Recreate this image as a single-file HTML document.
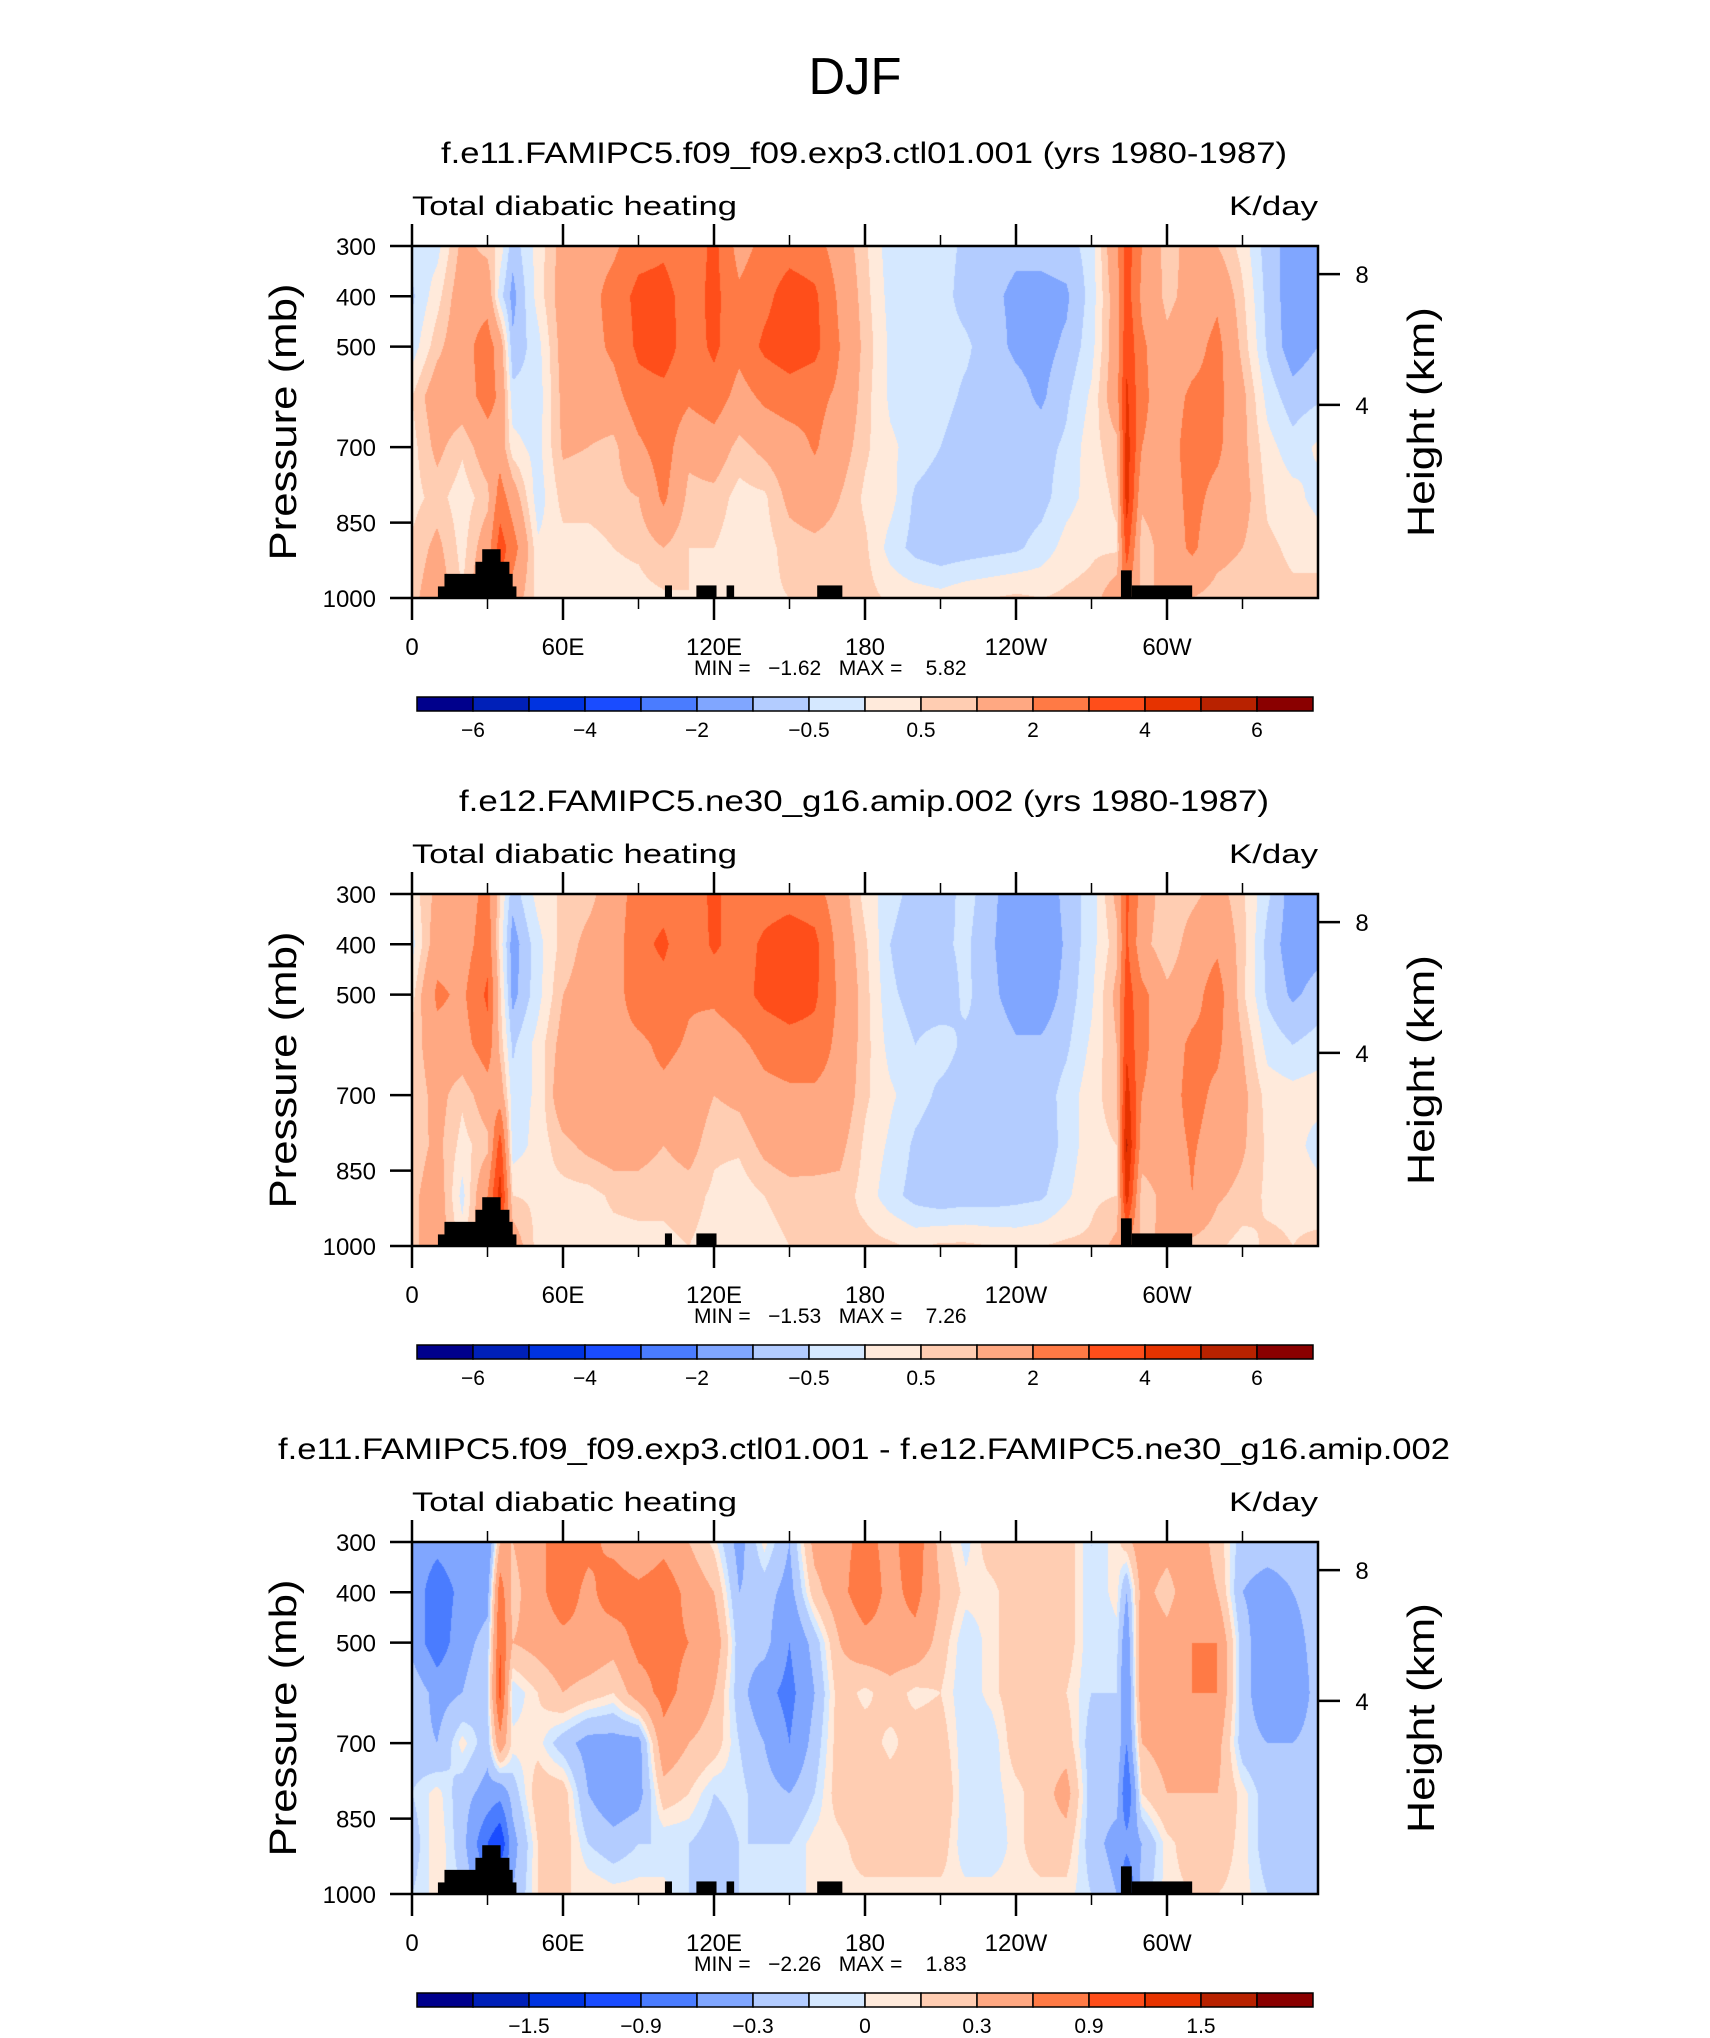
<!DOCTYPE html>
<html><head><meta charset="utf-8">
<style>
html,body{margin:0;padding:0;background:#fff;}
#root{position:relative;width:1710px;height:2038px;overflow:hidden;background:#fff;}
canvas{position:absolute;}
svg{position:absolute;left:0;top:0;}
text{font-family:"Liberation Sans",sans-serif;fill:#000;}
</style></head>
<body>
<div id="root">
<canvas id="c0" width="906" height="352" style="left:412px;top:246px"></canvas>
<canvas id="c1" width="906" height="352" style="left:412px;top:894px"></canvas>
<canvas id="c2" width="906" height="352" style="left:412px;top:1542px"></canvas>
<svg id="ov" width="1710" height="2038">
<text x="855" y="94" font-size="52" text-anchor="middle" textLength="93" lengthAdjust="spacingAndGlyphs" style="font-weight:300">DJF</text>
</svg>
</div>
<script>
// ---- data ----
const lons = [0,10,20,30,35,40,50,60,70,80,90,100,110,120,130,140,150,160,170,180,190,200,210,220,230,240,250,260,270,280,284,290,300,310,320,330,340,350,360];
const pLevels = [300,400,500,600,700,800,900,1000];
const panel1Values = [
[-0.3,-0.6,-0.3,0.5,0.3,0.3,0.6,0.8],[-0.2,0.3,0.8,1.5,1.2,0.7,1.2,1.5],[1.2,1.5,1.6,1.5,0.6,0.2,0.3,0.5],[0.8,1.6,2.5,2.4,1.5,0.8,1.5,2],[0.3,-0.3,1.5,1.8,1.5,2.5,3.5,3],[-0.8,-1.2,-0.9,-0.3,0.2,1.5,2.5,1.5],[0.2,0.2,-0.2,-0.3,-0.2,-0.3,0.1,0.3],[1.3,1.4,1.3,1.2,1.1,0.7,0.3,0.2],[1.5,1.6,1.6,1.5,1.0,0.7,0.3,0.2],[1.8,2.4,2.2,1.6,0.8,0.8,0.5,0.3],[2.6,3.3,3.2,2.6,1.8,1.0,0.6,0.3],[2.8,3.4,3.5,2.7,2.5,2.2,1.0,0.4],[2.2,2.5,2.5,2.2,1.2,0.8,0.5,0.5],[3.3,3.3,3.2,2.6,1.5,0.8,0.5,0.3],[1.6,2.2,2.3,1.6,0.8,0.3,0.2,0.3],[2.3,2.7,3.2,2.2,1.2,0.4,0.3,0.4],[2.6,3.5,3.6,2.5,1.5,1.2,0.7,0.5],[2.4,3.2,3.3,2.3,2.1,1.5,0.8,0.6],[1.5,1.8,2.0,1.8,1.4,1.0,0.7,0.6],[0.6,0.7,0.8,0.7,0.6,0.4,0.6,0.7],[-0.3,-0.2,-0.1,-0.1,0.1,0.2,-0.2,0.4],[-0.3,-0.3,-0.3,-0.3,-0.2,-0.6,-0.7,0.3],[-0.3,-0.3,-0.3,-0.3,-0.5,-0.8,-0.9,0.2],[-0.6,-0.7,-0.4,-0.6,-0.8,-0.9,-0.8,0.4],[-0.8,-0.9,-0.8,-0.7,-0.8,-0.8,-0.7,0.5],[-0.9,-1.1,-1.1,-0.8,-0.8,-0.8,-0.6,0.6],[-0.8,-1.2,-1.2,-1.1,-0.7,-0.7,-0.3,0.5],[-0.7,-1.1,-0.9,-0.6,-0.4,-0.2,0.2,0.6],[-0.3,-0.3,-0.2,0.1,0.3,0.2,0.4,0.7],[1.8,1.5,1.5,1.6,0.8,0.6,0.4,1.5],[3.5,3.5,3.8,4.2,4.5,4.5,3.5,2],[2.0,1.8,2.2,2.2,2.0,1.2,0.6,0.8],[0.7,0.8,1.2,1.5,1.6,1.5,1.4,1.2],[1.3,1.3,1.6,2.2,2.4,2.3,2.2,1.0],[1.0,1.8,2.3,2.3,2.2,1.7,1.3,0.7],[0.3,0.6,0.8,1.2,1.2,1.3,1.0,0.6],[-0.8,-0.7,-0.6,-0.2,0.2,0.4,0.6,0.7],[-1.2,-1.3,-1.3,-0.8,-0.3,0.2,0.4,0.6],[-1.1,-1.2,-1.0,-0.6,0.1,-0.2,0.3,0.7]];
const panel2Values = [
[0.2,-0.2,0.3,0.6,0.5,0.6,0.8,0.8],[1.2,1.5,2.2,1.6,1.3,1.2,1.5,1.5],[1.3,1.5,1.8,1.6,0.6,0.3,-0.2,0.3],[2.4,2.6,3.2,2.6,1.5,0.8,2,2],[0.5,0.3,0.6,0.8,1.5,3.5,4.5,3],[-0.8,-1.3,-1.2,-0.6,-0.3,-0.3,0.5,1.5],[0.2,-0.2,-0.2,0.2,0.1,0.2,0.4,0.3],[0.6,0.7,1.0,1.3,1.6,0.8,0.3,0.3],[0.8,1.2,1.3,1.6,1.7,1.2,0.3,0.2],[1.4,1.5,1.6,1.7,1.8,1.4,0.6,0.3],[2.5,2.7,2.5,1.8,1.7,1.3,0.7,0.3],[2.6,3.2,2.6,2.2,1.8,1.0,0.6,0.4],[2.2,2.2,2.1,1.9,1.6,1.3,0.7,0.5],[3.3,3.2,2.2,1.5,1.0,0.6,0.4,0.3],[2.2,2.5,2.6,1.8,1.2,0.6,0.2,0.3],[2.5,3.2,3.3,2.3,1.7,1.2,0.5,0.3],[2.6,3.6,3.6,2.6,1.8,1.5,0.7,0.5],[2.4,3.3,3.2,2.6,1.8,1.3,0.8,0.5],[1.4,1.6,1.8,1.7,1.6,1.2,0.8,0.6],[0.3,0.6,0.7,0.7,0.6,0.4,0.3,0.7],[-0.3,-0.5,-0.4,-0.2,0.1,-0.1,-0.3,0.6],[-0.7,-0.9,-0.7,-0.5,-0.3,-0.6,-0.7,0.4],[-0.8,-0.6,-0.8,-0.3,-0.6,-0.8,-0.9,0.6],[-0.3,-0.4,-0.4,-0.6,-0.7,-0.9,-0.8,0.6],[-0.8,-0.9,-0.8,-0.5,-0.7,-0.8,-0.8,0.5],[-1.5,-1.5,-1.4,-0.9,-0.8,-0.9,-0.7,0.4],[-1.5,-1.6,-1.4,-0.9,-0.8,-0.9,-0.6,0.5],[-0.8,-0.9,-0.8,-0.6,-0.3,-0.3,-0.1,0.6],[-0.3,-0.2,-0.1,0.1,0.3,0.3,0.4,0.6],[1.2,0.8,1.2,1.0,0.8,0.5,0.5,1.2],[3.2,3.2,3.5,3.8,4.5,5.2,4.5,2],[1.6,1.3,2.3,2.2,2.0,1.5,0.6,0.8],[0.5,0.5,1.2,1.5,1.6,1.6,1.3,1.2],[0.8,1.4,1.6,2.2,2.3,2.1,2.0,0.8],[1.3,1.8,2.5,2.2,1.8,1.6,1.1,0.6],[0.6,0.7,0.6,1.0,1.2,1.1,0.8,0.3],[-0.4,-0.7,-0.6,-0.2,0.3,0.4,0.4,0.6],[-1.3,-1.3,-1.1,-0.5,0.2,0.3,0.4,0.5],[-1.3,-1.2,-0.8,-0.3,0.3,-0.3,0.3,0.6]];
const panel3Values = [
[-0.4,-0.4,-0.4,-0.1,-0.2,-0.1,-0.2,-0.1],[-0.5,-0.8,-0.8,-0.4,-0.3,0.05,0.1,0.05],[-0.4,-0.5,-0.4,-0.3,0.05,-0.2,-0.2,-0.1],[-0.6,-0.4,-0.2,-0.1,-0.2,-0.4,-0.9,-0.5],[0.3,0.8,0.9,1.0,0.5,-0.5,-1.2,-0.5],[0.3,0.2,0.3,-0.1,0.05,-0.2,-0.4,-0.3],[0.5,0.5,0.4,0.1,0.05,0.2,0.1,0.1],[0.8,0.8,0.5,0.3,-0.2,0.2,0.2,0.1],[0.7,0.5,0.5,0.2,-0.4,-0.3,-0.1,0.1],[0.5,0.8,0.4,0.1,-0.4,-0.5,-0.2,0.05],[0.3,0.7,0.7,0.45,-0.4,-0.4,-0.1,0.05],[0.5,0.8,0.7,0.7,0.5,0.2,-0.1,0.05],[0.3,0.5,0.6,0.5,0.3,0.1,-0.1,-0.1],[0.05,0.3,0.5,0.3,0.2,-0.1,-0.2,-0.2],[-0.4,-0.3,-0.2,-0.2,-0.1,-0.05,-0.1,-0.1],[0.05,-0.2,-0.2,-0.5,-0.3,-0.2,-0.1,-0.05],[-0.3,-0.4,-0.6,-0.7,-0.6,-0.3,-0.1,-0.1],[0.4,0.2,-0.2,-0.3,-0.2,-0.1,0.05,0.05],[0.5,0.5,0.3,0.2,0.2,0.2,0.05,0.05],[0.7,0.8,0.5,0.05,0.2,0.3,0.2,0.05],[0.5,0.5,0.5,0.2,0.05,0.2,0.2,0.05],[0.8,0.7,0.5,0.05,0.2,0.2,0.2,0.05],[0.2,0.3,0.2,0.1,0.2,0.3,0.2,0.05],[-0.05,0.05,-0.1,-0.1,-0.1,-0.1,-0.1,0.05],[0.2,0.05,0.05,0.05,-0.1,-0.05,-0.1,0.05],[0.2,0.2,0.2,0.2,0.2,0.05,0.05,0.05],[0.2,0.2,0.2,0.2,0.2,0.2,0.2,0.05],[0.2,0.2,0.2,0.1,0.2,0.4,0.2,0.05],[-0.1,-0.1,-0.1,-0.1,-0.2,-0.2,-0.2,-0.1],[0.05,0.05,-0.05,-0.1,-0.1,-0.2,-0.4,-0.3],[0.2,-0.3,-0.5,-0.6,-0.6,-0.9,-0.5,-1],[0.5,0.4,0.5,0.5,0.3,0.1,-0.3,-0.2],[0.4,0.2,0.4,0.4,0.4,0.3,0.05,0.05],[0.5,0.5,0.6,0.6,0.5,0.3,0.2,0.1],[0.2,0.3,0.6,0.6,0.4,0.3,0.2,0.1],[-0.2,-0.3,-0.2,-0.2,-0.2,0.05,0.05,0.05],[-0.2,-0.4,-0.5,-0.5,-0.3,-0.2,-0.2,-0.1],[-0.2,-0.3,-0.4,-0.5,-0.3,-0.2,-0.2,-0.1],[-0.1,-0.2,-0.2,-0.2,-0.2,-0.1,-0.1,-0.1]];
const levelsAbs = [-6,-5,-4,-3,-2,-1,-0.5,0,0.5,1,2,3,4,5,6];
const levelsDiff = [-1.8,-1.5,-1.2,-0.9,-0.6,-0.3,-0.1,0,0.1,0.3,0.6,0.9,1.2,1.5,1.8];
const cbLabelsAbs = ["−6","−4","−2","−0.5","0.5","2","4","6"];
const cbLabelsDiff = ["−1.5","−0.9","−0.3","0","0.3","0.9","1.5"];
const colors = ["#00008c","#0020b8","#0033e0","#1a4cff","#4a7cff","#80a6ff","#b3ccff","#d5e8ff","#ffeadb","#ffcdb2","#ffa882","#ff7a45","#ff4e1a","#e63300","#b82200","#8a0000"];
const topoLon0 = [10.3,12.9,25.2,27.9,100.5,113,125,161,281.7,286];
const topoLon1 = [41.5,40,38.7,35.2,103.3,121,128,171,286,310];
const topoP = [977,952,928,903,975,975,975,975,945,975];
const topoIn2 = [1,1,1,1,1,1,0,0,1,1];
const pTicks = [300,400,500,700,850,1000];
const lonTicks = [0,60,120,180,240,300];
const lonTickLabels = ["0","60E","120E","180","120W","60W"];
const lonMinor = [30,90,150,210,270,330];
const hTicks = [8,4];
const hTickP = [356,616];
const titles = ["f.e11.FAMIPC5.f09_f09.exp3.ctl01.001 (yrs 1980-1987)","f.e12.FAMIPC5.ne30_g16.amip.002 (yrs 1980-1987)","f.e11.FAMIPC5.f09_f09.exp3.ctl01.001 - f.e12.FAMIPC5.ne30_g16.amip.002"];
const titleWidths = [846,810,1172];
const minVals = ["−1.62","−1.53","−2.26"];
const maxVals = ["5.82","7.26","1.83"];

// ---- geometry ----
const PX0=412, PW=906, PH=352;
const tops=[246,894,1542];
function xScale(lon){return PX0+lon/360*PW;}
function yScale(p,top){return top+(p-300)/700*PH;}

function sample(vals,lon,p){
  let i=0; while(i<lons.length-2 && lon>lons[i+1]) i++;
  const tx=Math.min(1,Math.max(0,(lon-lons[i])/(lons[i+1]-lons[i])));
  const fy=(p-300)/100; let j=Math.min(6,Math.floor(fy)); const ty=fy-j;
  const a=vals[i][j]*(1-tx)+vals[i+1][j]*tx;
  const b=vals[i][j+1]*(1-tx)+vals[i+1][j+1]*tx;
  return a*(1-ty)+b*ty;
}
function hexToRgb(h){return [parseInt(h.substr(1,2),16),parseInt(h.substr(3,2),16),parseInt(h.substr(5,2),16)];}
const rgb=colors.map(hexToRgb);
function drawField(cid,vals,levels){
  const cv=document.getElementById(cid), ctx=cv.getContext('2d');
  const img=ctx.createImageData(PW,PH);
  for(let y=0;y<PH;y++){
    const p=300+(y+0.5)/PH*700;
    for(let x=0;x<PW;x++){
      const lon=(x+0.5)/PW*360;
      const v=sample(vals,lon,p);
      let k=0; while(k<levels.length && v>=levels[k]) k++;
      const c=rgb[k], o=(y*PW+x)*4;
      img.data[o]=c[0];img.data[o+1]=c[1];img.data[o+2]=c[2];img.data[o+3]=255;
    }
  }
  ctx.putImageData(img,0,0);
}
drawField('c0',panel1Values,levelsAbs);
drawField('c1',panel2Values,levelsAbs);
drawField('c2',panel3Values,levelsDiff);

const NS='http://www.w3.org/2000/svg', svg=document.getElementById('ov');
function mk(tag,attrs,txt){const e=document.createElementNS(NS,tag);for(const k in attrs)e.setAttribute(k,attrs[k]);if(txt!==undefined)e.textContent=txt;svg.appendChild(e);return e;}

for(let n=0;n<3;n++){
  const top=tops[n], o=top-246, bot=top+PH;
  let e;
  e=mk('text',{x:864,y:163+o,'font-size':30,'text-anchor':'middle',textLength:titleWidths[n],lengthAdjust:'spacingAndGlyphs'},titles[n]);
  
  
  e=mk('text',{x:412,y:215+o,'font-size':27,textLength:325,lengthAdjust:'spacingAndGlyphs'},'Total diabatic heating');
  
  
  e=mk('text',{x:1318,y:215+o,'font-size':27,'text-anchor':'end',textLength:89,lengthAdjust:'spacingAndGlyphs'},'K/day');
  
  
  for(let i=0;i<topoP.length;i++){
    if(n===1 && !topoIn2[i]) continue;
    e=mk('rect',{x:xScale(topoLon0[i]),y:yScale(topoP[i],top),width:xScale(topoLon1[i])-xScale(topoLon0[i]),height:bot-yScale(topoP[i],top),fill:'#000'});
    
    
  }
  e=mk('rect',{x:PX0,y:top,width:PW,height:PH,fill:'none',stroke:'#000','stroke-width':2.5});
  
  
  for(let i=0;i<pTicks.length;i++){
    const y=yScale(pTicks[i],top);
    e=mk('line',{x1:390,x2:PX0,y1:y,y2:y,stroke:'#000','stroke-width':2.5});
    
    
    e=mk('text',{x:376,y:y+9,'font-size':24,'text-anchor':'end'},String(pTicks[i]));
    
    
  }
  for(let i=0;i<lonTicks.length;i++){
    const x=xScale(lonTicks[i]);
    e=mk('line',{x1:x,x2:x,y1:bot,y2:bot+22,stroke:'#000','stroke-width':2.5});
    
    
    e=mk('line',{x1:x,x2:x,y1:top,y2:top-22,stroke:'#000','stroke-width':2.5});
    
    
    e=mk('text',{x:x,y:bot+57,'font-size':24,'text-anchor':'middle'},lonTickLabels[i]);
    
    
  }
  for(let i=0;i<lonMinor.length;i++){
    const x=xScale(lonMinor[i]);
    e=mk('line',{x1:x,x2:x,y1:bot,y2:bot+11,stroke:'#000','stroke-width':1.5});
    
    
    e=mk('line',{x1:x,x2:x,y1:top,y2:top-11,stroke:'#000','stroke-width':1.5});
    
    
  }
  for(let i=0;i<hTicks.length;i++){
    const y=yScale(hTickP[i],top);
    e=mk('line',{x1:1318,x2:1340,y1:y,y2:y,stroke:'#000','stroke-width':2.5});
    
    
    e=mk('text',{x:1362,y:y+9,'font-size':24,'text-anchor':'middle'},String(hTicks[i]));
    
    
  }
  const cy=top+176;
  e=mk('text',{x:0,y:0,'font-size':38,'text-anchor':'middle',textLength:277,lengthAdjust:'spacingAndGlyphs',transform:'translate(296,'+cy+') rotate(-90)'},'Pressure (mb)');
  
  
  e=mk('text',{x:0,y:0,'font-size':38,'text-anchor':'middle',textLength:230,lengthAdjust:'spacingAndGlyphs',transform:'translate(1434,'+cy+') rotate(-90)'},'Height (km)');
  
  
  e=mk('text',{x:694,y:bot+77,'font-size':21,style:'white-space:pre'},'MIN =   '+minVals[n]+'   MAX =    '+maxVals[n]);
  
  
  const cbT=bot+99, bw=56, cbL=417;
  for(let k=0;k<16;k++){
    e=mk('rect',{x:cbL+k*bw,y:cbT,width:bw,height:14,fill:colors[k],stroke:'#000','stroke-width':1.5});
    
    
  }
  const labs = n<2?cbLabelsAbs:cbLabelsDiff;
  for(let k=0;k<labs.length;k++){
    const bi = n<2 ? 1+2*k : 2+2*k;
    e=mk('text',{x:cbL+bi*bw,y:cbT+40,'font-size':21,'text-anchor':'middle'},labs[k]);
    
    
  }
}
</script>
</body></html>
